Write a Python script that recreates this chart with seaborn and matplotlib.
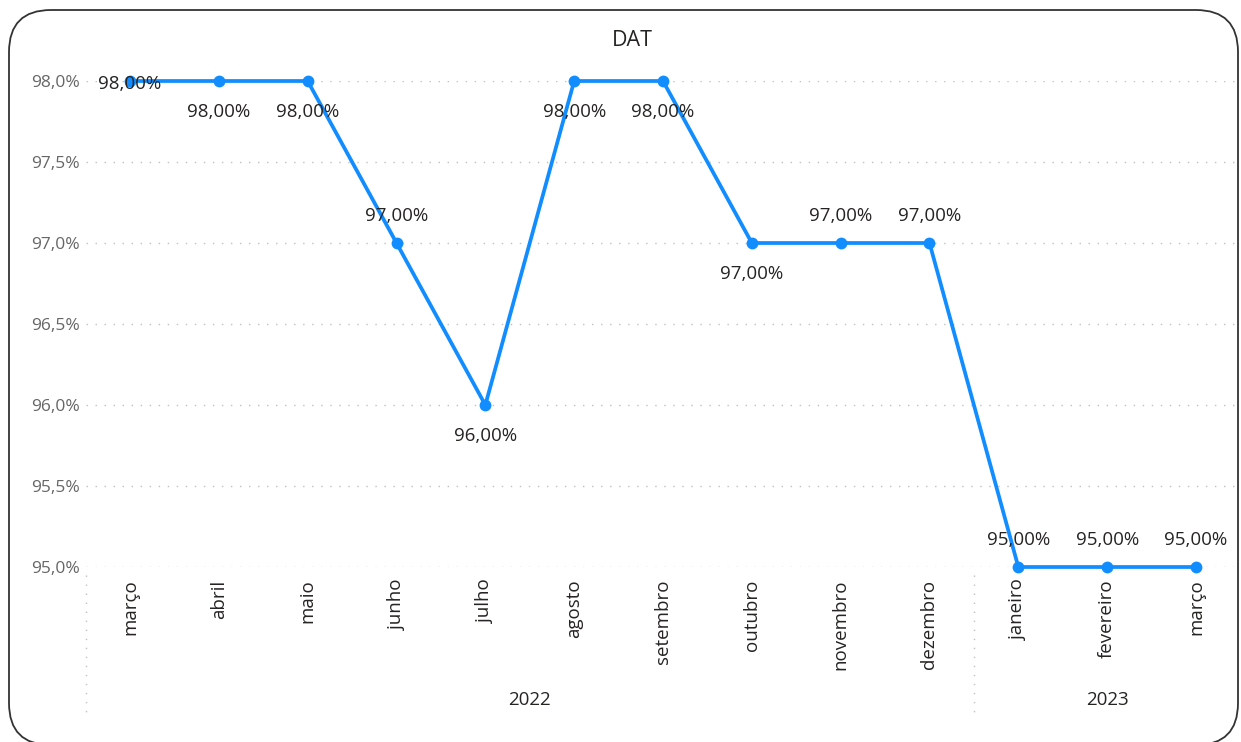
import seaborn as sns
import matplotlib.pyplot as plt
import pandas as pd
import numpy as np
from matplotlib.patches import FancyBboxPatch
from matplotlib.transforms import blended_transform_factory

# Data
months = ['março', 'abril', 'maio', 'junho', 'julho', 'agosto', 'setembro',
          'outubro', 'novembro', 'dezembro', 'janeiro', 'fevereiro', 'março']
years = ['2022'] * 10 + ['2023'] * 3
dat = [98, 98, 98, 97, 96, 98, 98, 97, 97, 97, 95, 95, 95]
label_pos = ['center', 'below', 'below', 'above', 'below', 'below', 'below',
             'below', 'above', 'above', 'above', 'above', 'above']

df = pd.DataFrame({'idx': range(len(months)), 'Mes': months, 'Ano': years, 'DAT': dat})

sns.set_style("white")
plt.rcParams['font.family'] = ['Open Sans', 'DejaVu Sans']

fig = plt.figure(figsize=(12.41, 7.42), dpi=100)
W, H = 1241, 742
ax = fig.add_axes([85.6 / W, (H - 567) / H, (1240.4 - 85.6) / W, (567 - 81) / H])

blue = '#118DFF'
sns.lineplot(data=df, x='idx', y='DAT', ax=ax, color=blue, linewidth=2.7,
             marker='o', markersize=8.5, markeredgewidth=0, clip_on=False, zorder=3)

ax.set_xlim(-0.5, len(months) - 0.5)
ax.set_ylim(95, 98)
ax.set_yticks(np.arange(95, 98.01, 0.5))
ax.set_yticklabels([f"{v:.1f}%".replace('.', ',') for v in np.arange(95, 98.01, 0.5)],
                   color='#666666', fontsize=12.5)
ax.set_xticks(df['idx'])
ax.set_xticklabels(months, rotation=90, color='#252423', fontsize=13.5)
ax.tick_params(axis='x', length=0, pad=9)
ax.tick_params(axis='y', length=0, pad=4)
for s in ax.spines.values():
    s.set_visible(False)
ax.grid(axis='y', color='#c0c0c0', linestyle=(0, (1, 5.5)), linewidth=1)
ax.set_xlabel('')
ax.set_ylabel('')

# Data labels
for i, v in enumerate(dat):
    txt = f"{v:.2f}%".replace('.', ',')
    pos = label_pos[i]
    if pos == 'above':
        off, va = 13, 'bottom'
    elif pos == 'below':
        off, va = -16, 'top'
    else:
        off, va = -2, 'center'
    ax.annotate(txt, (i, v), xytext=(0, off), textcoords='offset points',
                ha='center', va=va, fontsize=13.5, color='#252423', zorder=4)

# Year grouping on x axis
tr = blended_transform_factory(ax.transData, ax.transAxes)
for xs in [-0.5, 9.5]:
    ax.plot([xs, xs], [-0.016, -0.305], transform=tr, clip_on=False,
            color='#c0c0c0', linestyle=(0, (1, 5.5)), linewidth=1)
for yr in ['2022', '2023']:
    xc = df.loc[df['Ano'] == yr, 'idx'].mean()
    ax.text(xc, -0.274, yr, transform=tr, ha='center', va='center',
            fontsize=13.5, color='#252423')

fig.text(632 / W, 1 - 40 / H, 'DAT', ha='center', va='center', fontsize=15.5,
         color='#252423')

# Rounded card border
card = FancyBboxPatch((0.09, -0.03), 12.29, 7.35, boxstyle='round,pad=0,rounding_size=0.42',
                      transform=fig.dpi_scale_trans, facecolor='none', edgecolor='#333333',
                      linewidth=1.3, clip_on=False)
fig.patches.append(card)

plt.savefig('out.png', dpi=100)
